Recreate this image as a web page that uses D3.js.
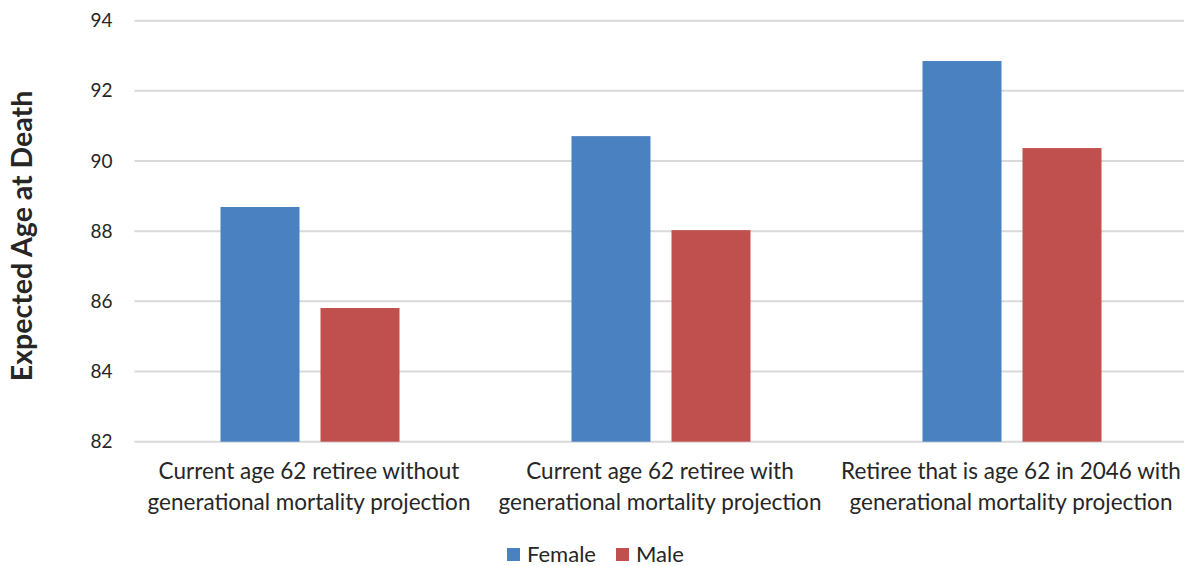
<!DOCTYPE html>
<html>
<head>
<meta charset="utf-8">
<script src="https://cdn.jsdelivr.net/npm/d3@7"></script>
<style>
  body { margin: 0; background: #fff; }
  text { font-family: "Lato", sans-serif; fill: #262626; }
</style>
</head>
<body>
<div id="myVis"></div>
<script>
var w = 1184;
var h = 566;

// Chart data
var categories = [
  ["Current age 62 retiree without", "generational mortality projection"],
  ["Current age 62 retiree with", "generational mortality projection"],
  ["Retiree that is age 62 in 2046 with", "generational mortality projection"]
];
var seriesNames = ["Female", "Male"];
var female = [88.69, 90.71, 92.85];
var male = [85.81, 88.03, 90.37];
var yTicks = [82, 84, 86, 88, 90, 92, 94];
var colors = ["#4a81c0", "#c0504d"];

var svg = d3.select("#myVis").append("svg")
  .attr("width", w)
  .attr("height", h);

function draw() {
  var left = 134.5, right = 1187.5, top = 20.7, bottom = 441.7;

  var x0 = d3.scaleBand()
    .domain(d3.range(categories.length))
    .range([left, right])
    .padding(0);

  var x1 = d3.scaleBand()
    .domain(seriesNames)
    .range([86, 265])
    .paddingInner(0.21)
    .paddingOuter(0);

  var y = d3.scaleLinear()
    .domain([82, 94])
    .range([bottom, top]);

  // gridlines
  svg.append("g")
    .selectAll("line")
    .data(yTicks)
    .enter()
    .append("line")
    .attr("x1", left)
    .attr("x2", right)
    .attr("y1", function(d) { return y(d); })
    .attr("y2", function(d) { return y(d); })
    .attr("stroke", "#d9d9d9")
    .attr("stroke-width", 2);

  // y tick labels
  var yAxis = svg.append("g")
    .attr("transform", "translate(" + (left - 22) + ",0)")
    .call(d3.axisLeft(y).tickValues(yTicks).tickSize(0).tickPadding(0));
  yAxis.select(".domain").remove();
  yAxis.selectAll("text")
    .attr("font-size", 19)
    .attr("font-family", null)
    .style("fill", "#262626");

  // bars
  var rows = categories.map(function(c, i) {
    return [{ s: "Female", v: female[i] }, { s: "Male", v: male[i] }];
  });

  var groups = svg.append("g")
    .selectAll("g")
    .data(rows)
    .enter()
    .append("g")
    .attr("transform", function(d, i) { return "translate(" + x0(i) + ",0)"; });

  groups.selectAll("rect")
    .data(function(d) { return d; })
    .enter()
    .append("rect")
    .attr("x", function(d) { return x1(d.s); })
    .attr("width", x1.bandwidth())
    .attr("y", function(d) { return y(d.v); })
    .attr("height", function(d) { return y(82) - y(d.v); })
    .attr("fill", function(d, i) { return colors[i]; });

  // category labels
  var labels = svg.append("g")
    .selectAll("text")
    .data(categories)
    .enter()
    .append("text")
    .attr("x", function(d, i) { return x0(i) + x0.bandwidth() / 2 - 1; })
    .attr("y", 479)
    .attr("text-anchor", "middle")
    .attr("font-size", 22.5);
  labels.selectAll("tspan")
    .data(function(d) { return d; })
    .enter()
    .append("tspan")
    .attr("x", function() { return d3.select(this.parentNode).attr("x"); })
    .attr("dy", function(d, i) { return i === 0 ? 0 : 31; })
    .text(function(d) { return d; });

  // y axis title
  svg.append("text")
    .attr("transform", "translate(32," + 236 + ") rotate(-90)")
    .attr("text-anchor", "middle")
    .attr("font-size", 28.5)
    .attr("font-weight", "bold")
    .text("Expected Age at Death");

  // legend
  var legend = svg.append("g")
    .selectAll("g")
    .data(seriesNames)
    .enter()
    .append("g")
    .attr("transform", function(d, i) { return "translate(" + (i === 0 ? 507 : 616) + ",548)"; });
  legend.append("rect")
    .attr("width", 13)
    .attr("height", 13)
    .attr("fill", function(d, i) { return colors[i]; });
  legend.append("text")
    .attr("x", 20)
    .attr("y", 14)
    .attr("font-size", 22)
    .text(function(d) { return d; });
}

draw();
</script>
</body>
</html>
